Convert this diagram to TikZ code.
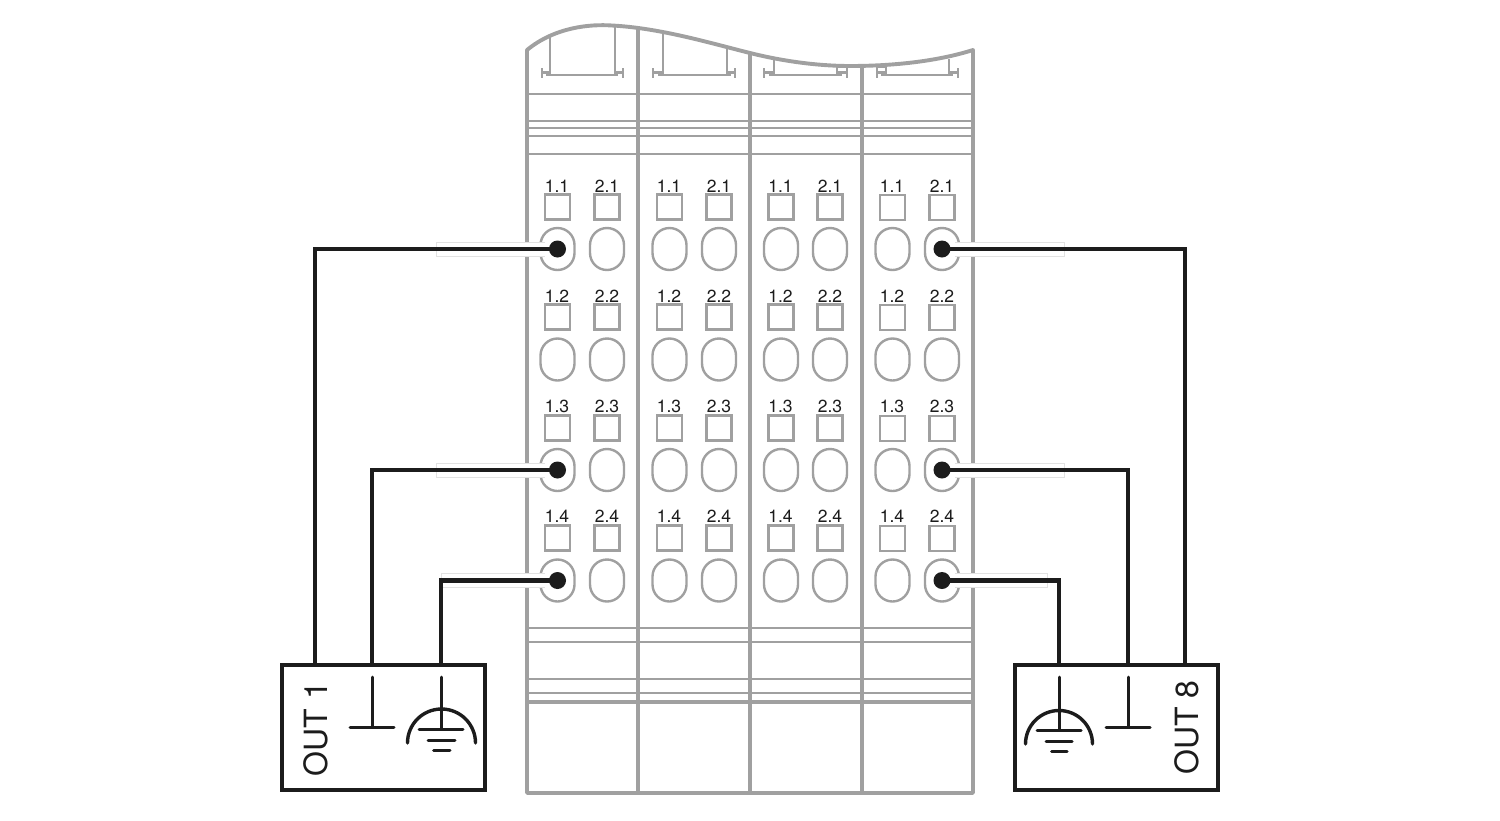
\documentclass[tikz,border=0pt]{standalone}
\usepackage{fontspec}
\setmainfont{TeX Gyre Heros}
\definecolor{mgray}{HTML}{A0A0A0}
\definecolor{halo}{HTML}{E2E2E2}
\definecolor{ink}{HTML}{1C1C1C}
\tikzset{
  frameline/.style={draw=mgray,line width=3.9pt},
  thinline/.style={draw=mgray,line width=2.3pt},
  clipline/.style={draw=mgray,line width=2.3pt},
  port/.style={draw=mgray,line width=2.4pt,fill=white,rounded corners=17pt,minimum width=34pt,minimum height=42pt,inner sep=0pt},
  sqr/.style={draw=mgray,line width=2.4pt,minimum size=25pt,inner sep=0pt},
  tag/.style={font=\fontsize{17.5}{17.5}\selectfont,text=ink,anchor=base,inner sep=0pt},
  wire/.style={draw=ink,line width=4.8pt,line join=miter},
  dot/.style={circle,fill=ink,minimum size=17pt,inner sep=0pt},
  outbox/.style={draw=ink,line width=3.5pt,minimum width=203pt,minimum height=125pt,inner sep=0pt},
  outtext/.style={font=\fontsize{32}{32}\selectfont,text=ink,rotate=90,inner sep=0pt},
  sym/.style={draw=ink,line width=3pt,line cap=round},
  symarc/.style={draw=ink,line width=3.4pt,line cap=round},
}
\begin{document}
\begin{tikzpicture}[x=1pt,y=-1pt]
\useasboundingbox (0,0) rectangle (1500,820);
% --- horizontal rails
\foreach \yy in {94,121,128,136,154,628,642,679,693}
  \draw[thinline] (527,\yy) -- (973,\yy);
\draw[frameline] (527,702) -- (973,702);
% --- module outline
\draw[frameline,line join=round] (527,793) -- (527,50)
  .. controls (555,27) and (590,24) .. (612,25.5)
  .. controls (660,28) and (710,43) .. (750,53)
  .. controls (790,63) and (825,66) .. (850,66)
  .. controls (890,66) and (935,62) .. (973,50)
  -- (973,793) -- cycle;
\draw[frameline] (638,27) -- (638,793);
\draw[frameline] (750,53) -- (750,793);
\draw[frameline] (862,66) -- (862,793);
% --- top clips
\draw[clipline] (550,37) -- (550,75) (615,27) -- (615,75)
  (546,75) -- (618,75) (542,68) -- (542,78) (623,68) -- (623,78)
  (542,72.5) -- (550,72.5) (615,72.5) -- (623,72.5);
\draw[clipline] (663,31) -- (663,75) (727,46) -- (727,75)
  (658,75) -- (731,75) (653,68) -- (653,78) (735,68) -- (735,78)
  (653,72.5) -- (663,72.5) (727,72.5) -- (735,72.5);
\draw[clipline] (774,59) -- (774,75) (837,65) -- (837,75)
  (769,75) -- (842,75) (764,68) -- (764,78) (847,67) -- (847,78)
  (764,72.5) -- (774,72.5) (837,72.5) -- (847,72.5) (837,67) -- (847,67);
\draw[clipline] (886,66) -- (886,75) (949,59) -- (949,75)
  (881,75) -- (953,75) (877,67) -- (877,78) (958,68) -- (958,78)
  (877,72.5) -- (886,72.5) (949,72.5) -- (958,72.5) (877,67) -- (886,67);
% --- terminals
\foreach \m/\xa/\xb/\dy in {1/557.5/607/0,2/669.5/719/0,3/781/830/0,4/892.5/942/0.7} {
  \foreach \r/\ty/\sy/\py in {1/192/207/249,2/302/317/359.5,3/412.5/428/470,4/522.5/538/580.5} {
    \node[tag] (la\m\r) at (\xa-0.5,\ty) {1.\r};
    \node[tag] (lb\m\r) at (\xb,\ty) {2.\r};
    \node[sqr] (sa\m\r) at (\xa,\sy+\dy) {};
    \node[sqr] (sb\m\r) at (\xb,\sy+\dy) {};
    \node[port] (pa\m\r) at (\xa,\py) {};
    \node[port] (pb\m\r) at (\xb,\py) {};
  }
}
% --- white wire sleeves
\foreach \xl/\xr/\yy in {436/545/249,436/545/470,441/545/580} {
  \fill[white] (\xl,\yy-7) rectangle (\xr,\yy+7);
  \draw[halo,line width=1pt] (\xr,\yy-7) -- (\xl,\yy-7) -- (\xl,\yy+7) -- (\xr,\yy+7);
}
\foreach \xl/\xr/\yy in {955/1064/249,955/1064/470,955/1047/580} {
  \fill[white] (\xl,\yy-7) rectangle (\xr,\yy+7);
  \draw[halo,line width=1pt] (\xl,\yy-7) -- (\xr,\yy-7) -- (\xr,\yy+7) -- (\xl,\yy+7);
}
% --- output boxes
\node[outbox] (boxL) at (383.5,727.5) {};
\node[outbox] (boxR) at (1116.5,727.5) {};
\coordinate (pinL1) at (315,666.5);
\coordinate (pinL2) at (372,666.5);
\coordinate (pinL3) at (441,666.5);
\coordinate (pinR1) at (1185,666.5);
\coordinate (pinR2) at (1128,666.5);
\coordinate (pinR3) at (1059,666.5);
% --- wires
\node[dot] (dL1) at (pa11.center) {};
\node[dot] (dL2) at (pa13.center) {};
\node[dot] (dL3) at (pa14.center) {};
\node[dot] (dR1) at (pb41.center) {};
\node[dot] (dR2) at (pb43.center) {};
\node[dot] (dR3) at (pb44.center) {};
\draw[wire] (dL1.center) -| (pinL1);
\draw[wire] (dL2.center) -| (pinL2);
\draw[wire] (dL3.center) -| (pinL3);
\draw[wire] (dR1.center) -| (pinR1);
\draw[wire] (dR2.center) -| (pinR2);
\draw[wire] (dR3.center) -| (pinR3);
% --- box texts
\node[outtext] (tL) at (315.5,729) {OUT 1};
\node[outtext] (tR) at (1187,727.5) {OUT 8};
% --- symbols, left
\draw[sym] (372,677) -- (372,727) (350,727) -- (394,727);
\draw[sym] (441,677) -- (441,729) (419,729) -- (463,729)
  (428,740) -- (455,740) (433.5,750) -- (450,750);
\draw[symarc] (407.5,743) arc[start angle=180,end angle=0,radius=34pt];
% --- symbols, right
\draw[sym] (1128,677) -- (1128,727) (1106,727) -- (1150,727);
\draw[sym] (1059,677) -- (1059,730) (1037,730) -- (1081,730)
  (1046,741) -- (1072,741) (1051.5,751) -- (1067,751);
\draw[symarc] (1025.5,744) arc[start angle=180,end angle=0,radius=33.5pt];
\end{tikzpicture}
\end{document}
